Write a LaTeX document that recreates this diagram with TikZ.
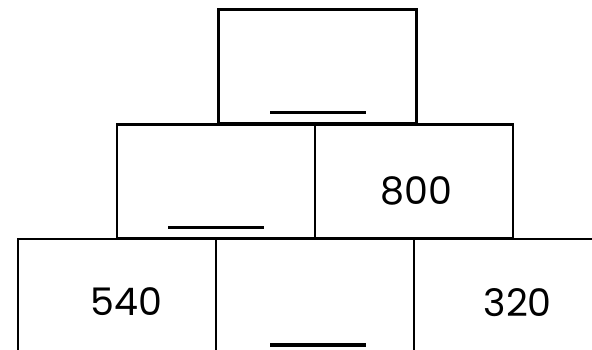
\documentclass[tikz,border=0pt]{standalone}
\usepackage{fontspec}
\setmainfont{Poppins}
\usetikzlibrary{positioning}
\tikzset{brick/.style={rectangle, draw, line width=2.4pt, minimum width=198pt, minimum height=114pt, inner sep=0pt},
  number/.style={anchor=base, inner sep=0pt, font=\fontsize{38}{40}\selectfont},
  blank/.style={inner sep=0pt}}

\begin{document}
\begin{tikzpicture}[x=1pt,y=-1pt]
  \useasboundingbox (0,0) rectangle (592,349);
  \clip (0,0) rectangle (592,349);
  \foreach \x/\y/\lab in {
    317.5/66.5/top,
    216/181.5/midl,
    414/181.5/midr,
    117/296/botl,
    315/296/botm,
    513/296/botr%
  } {
    \node[brick] (\lab) at (\x, \y) {};
  }
  \foreach \x/\y/\lab/\val in {
    126.7/315/n540/540,
    416.5/204/n800/800,
    517.8/316/n320/320%
  } {
    \node[number] (\lab) at (\x, \y) {\val};
  }
  \foreach \x/\y/\lab in {
    318/112.3/blanktop,
    216/227.3/blankmid,
    318/345/blankbot%
  } {
    \node[blank] (\lab) at (\x, \y) {\rule{96pt}{3.4pt}};
  }
\end{tikzpicture}
\end{document}
